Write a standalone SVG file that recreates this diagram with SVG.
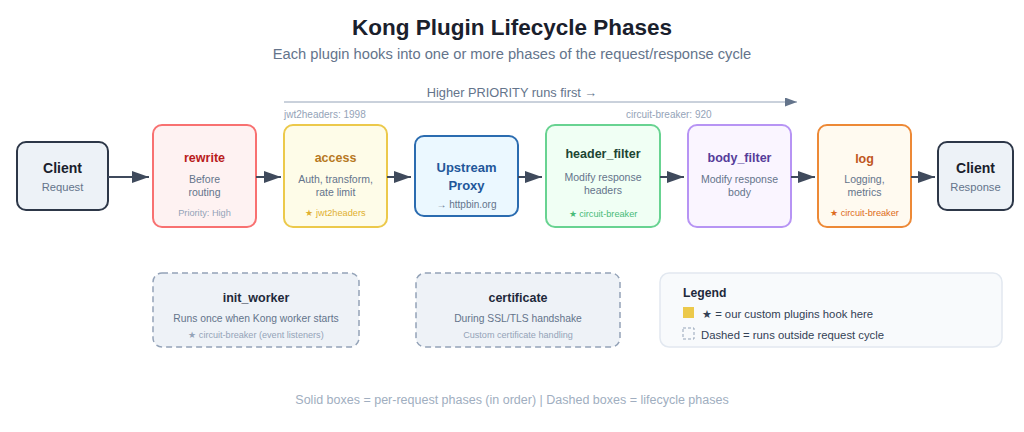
<svg xmlns="http://www.w3.org/2000/svg" width="1024" height="432" viewBox="0 0 1024 432">
<defs>
<marker id="ah" markerUnits="userSpaceOnUse" markerWidth="17" markerHeight="12" refX="17" refY="6" orient="auto"><path d="M0,0 L17,6 L0,12 z" fill="#3f4a5c"/></marker>
<marker id="ahp" markerUnits="userSpaceOnUse" markerWidth="12" markerHeight="9" refX="12" refY="4.5" orient="auto"><path d="M0,0 L12,4.5 L0,9 z" fill="#64748b"/></marker>
</defs>
<style>
text{font-family:"Liberation Sans",Arial,sans-serif;text-anchor:middle}
.t{font-size:12.5px;font-weight:bold}
.d{font-size:10.5px;fill:#64748b}
.f{font-size:9.2px}
.box{stroke-width:2}
.dash{fill:#eef2f7;stroke:#94a3b8;stroke-width:1.5;stroke-dasharray:6 4}
.conn{stroke:#3f4a5c;stroke-width:2;fill:none}
</style>
<rect width="1024" height="432" fill="#ffffff"/>
<text x="512" y="35" style="font-size:22.5px;font-weight:bold;fill:#1a202c">Kong Plugin Lifecycle Phases</text>
<text x="512" y="59" style="font-size:14.7px;fill:#64748b">Each plugin hooks into one or more phases of the request/response cycle</text>

<g id="priority">
<text x="512" y="97" style="font-size:12.8px;fill:#64748b">Higher PRIORITY runs first →</text>
<line x1="284" y1="102" x2="797" y2="102" stroke="#94a3b8" stroke-width="1" marker-end="url(#ahp)"/>
<text x="284" y="118" style="font-size:10px;fill:#94a3b8;text-anchor:start">jwt2headers: 1998</text>
<text x="626" y="118" style="font-size:10px;fill:#94a3b8;text-anchor:start">circuit-breaker: 920</text>
</g>

<g id="client-request">
<rect x="17" y="142" width="91" height="68" rx="9" fill="#edf2f7" stroke="#2d3748" class="box"/>
<text x="62.5" y="173" style="font-size:14px;font-weight:bold;fill:#1a202c">Client</text>
<text x="62.5" y="191" style="font-size:11.2px;fill:#64748b">Request</text>
</g>

<g id="rewrite">
<rect x="153" y="125" width="103" height="102" rx="9" fill="#fef2f2" stroke="#f87171" class="box"/>
<text x="204.5" y="162" class="t" style="fill:#b91c1c">rewrite</text>
<text x="204.5" y="183" class="d">Before</text>
<text x="204.5" y="196" class="d">routing</text>
<text x="204.5" y="216" class="f" style="fill:#94a3b8">Priority: High</text>
</g>

<g id="access">
<rect x="284" y="125" width="103" height="102" rx="9" fill="#fefce8" stroke="#ecc94b" class="box"/>
<text x="335.5" y="162" class="t" style="fill:#b7791f">access</text>
<text x="335.5" y="183" class="d">Auth, transform,</text>
<text x="335.5" y="196" class="d">rate limit</text>
<text x="335.5" y="216" class="f" style="fill:#e0b030">★ jwt2headers</text>
</g>

<g id="upstream">
<rect x="415" y="136" width="103" height="80" rx="9" fill="#ebf8ff" stroke="#2b6cb0" class="box"/>
<text x="466.5" y="172" style="font-size:13px;font-weight:bold;fill:#22579a">Upstream</text>
<text x="466.5" y="190" style="font-size:13px;font-weight:bold;fill:#22579a">Proxy</text>
<text x="466.5" y="208" style="font-size:10px;fill:#64748b">→ httpbin.org</text>
</g>

<g id="header_filter">
<rect x="546" y="125" width="114" height="102" rx="9" fill="#f0fff4" stroke="#68d391" class="box"/>
<text x="603" y="158" class="t" style="fill:#1c4532">header_filter</text>
<text x="603" y="181" class="d">Modify response</text>
<text x="603" y="194" class="d">headers</text>
<text x="603" y="217" class="f" style="fill:#48bb78">★ circuit-breaker</text>
</g>

<g id="body_filter">
<rect x="688" y="125" width="103" height="102" rx="9" fill="#faf5ff" stroke="#b794f4" class="box"/>
<text x="739.5" y="162" class="t" style="fill:#553c9a">body_filter</text>
<text x="739.5" y="183" class="d">Modify response</text>
<text x="739.5" y="196" class="d">body</text>
</g>

<g id="log">
<rect x="818" y="125" width="93" height="102" rx="9" fill="#fffaf0" stroke="#ed8936" class="box"/>
<text x="864.5" y="163" class="t" style="fill:#c05621">log</text>
<text x="864.5" y="183" class="d">Logging,</text>
<text x="864.5" y="196" class="d">metrics</text>
<text x="864.5" y="216" class="f" style="fill:#dd6b20">★ circuit-breaker</text>
</g>

<g id="client-response">
<rect x="938" y="142" width="75" height="68" rx="9" fill="#edf2f7" stroke="#2d3748" class="box"/>
<text x="975.5" y="173" style="font-size:14px;font-weight:bold;fill:#1a202c">Client</text>
<text x="975.5" y="191" style="font-size:11.2px;fill:#64748b">Response</text>
</g>

<g id="connectors">
<line x1="108" y1="177" x2="149" y2="177" class="conn" marker-end="url(#ah)"/>
<line x1="256" y1="177" x2="281" y2="177" class="conn" marker-end="url(#ah)"/>
<line x1="387" y1="177" x2="411" y2="177" class="conn" marker-end="url(#ah)"/>
<line x1="518" y1="177" x2="542" y2="177" class="conn" marker-end="url(#ah)"/>
<line x1="660" y1="177" x2="684" y2="177" class="conn" marker-end="url(#ah)"/>
<line x1="791" y1="177" x2="815" y2="177" class="conn" marker-end="url(#ah)"/>
<line x1="911" y1="177" x2="935" y2="177" class="conn" marker-end="url(#ah)"/>
</g>

<g id="init_worker">
<rect x="153" y="273" width="206" height="74" rx="9" class="dash"/>
<text x="256" y="302" class="t" style="fill:#1e293b">init_worker</text>
<text x="256" y="322" style="font-size:10.3px;fill:#64748b">Runs once when Kong worker starts</text>
<text x="256" y="338" style="font-size:9.1px;fill:#94a3b8">★ circuit-breaker (event listeners)</text>
</g>

<g id="certificate">
<rect x="416" y="273" width="204" height="74" rx="9" class="dash"/>
<text x="518" y="302" class="t" style="fill:#1e293b">certificate</text>
<text x="518" y="322" style="font-size:10.3px;fill:#64748b">During SSL/TLS handshake</text>
<text x="518" y="338" style="font-size:9.1px;fill:#94a3b8">Custom certificate handling</text>
</g>

<g id="legend">
<rect x="660" y="273" width="342" height="74" rx="9" fill="#f8fafc" stroke="#e2e8f0" stroke-width="1.5"/>
<text x="683" y="297" style="font-size:12.2px;font-weight:bold;fill:#1e293b;text-anchor:start">Legend</text>
<rect x="683" y="307" width="11" height="11" fill="#ecc94b"/>
<text x="702" y="318" style="font-size:11.3px;fill:#334155;text-anchor:start">★ = our custom plugins hook here</text>
<rect x="683" y="328" width="11" height="11" fill="none" stroke="#94a3b8" stroke-width="1" stroke-dasharray="3 2"/>
<text x="701" y="339" style="font-size:11.3px;fill:#334155;text-anchor:start">Dashed = runs outside request cycle</text>
</g>

<text x="512" y="404" style="font-size:12.5px;fill:#a0aec0">Solid boxes = per-request phases (in order) | Dashed boxes = lifecycle phases</text>
</svg>
